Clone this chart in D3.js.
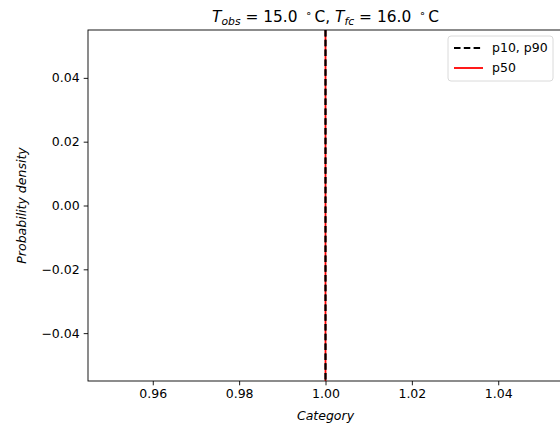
<!DOCTYPE html>
<html>
<head>
<meta charset="utf-8">
<script src="https://cdn.jsdelivr.net/npm/d3@7"></script>
<style>
  html, body { margin: 0; padding: 0; background: #fff; }
  svg { display: block; font-family: "DejaVu Sans", sans-serif; }
</style>
</head>
<body>
<svg id="chart" width="560" height="428"></svg>
<script>
// Forecast percentiles for the single category
const categories = [1.0];
const p10 = [1.0];
const p50 = [1.0];
const p90 = [1.0];
const xTicks = [0.96, 0.98, 1.00, 1.02, 1.04];
const yTicks = [-0.04, -0.02, 0.00, 0.02, 0.04];
const xDomain = [0.945, 1.055];
const yDomain = [-0.055, 0.055];
const tObs = "15.0", tFc = "16.0";

const svg = d3.select("#chart");
const margin = { left: 88, top: 30, right: 563, bottom: 381 };
const fs = 12.5;

const x = d3.scaleLinear().domain(xDomain).range([margin.left, margin.right]);
const y = d3.scaleLinear().domain(yDomain).range([margin.bottom, margin.top]);

// percentile lines: p50 underneath, p10/p90 dashed on top
const plot = svg.append("g");
plot.selectAll("line.p50").data(p50).join("line")
  .attr("class", "p50")
  .attr("x1", d => x(d)).attr("x2", d => x(d))
  .attr("y1", y(yDomain[0])).attr("y2", y(yDomain[1]))
  .attr("stroke", "red").attr("stroke-width", 1.8);
plot.selectAll("line.p1090").data(p10.concat(p90)).join("line")
  .attr("class", "p1090")
  .attr("x1", d => x(d)).attr("x2", d => x(d))
  .attr("y1", y(yDomain[1])).attr("y2", y(yDomain[0]))
  .attr("stroke", "black").attr("stroke-width", 1.8)
  .attr("stroke-dasharray", "6.5,3.3");

// axes
const xAxis = d3.axisBottom(x).tickValues(xTicks).tickFormat(d3.format(".2f"))
  .tickSize(4.3).tickPadding(4);
const yAxis = d3.axisLeft(y).tickValues(yTicks)
  .tickFormat(d => d3.format(".2f")(d).replace("-", "\u2212"))
  .tickSize(4.3).tickPadding(4);

const gx = svg.append("g").attr("transform", `translate(0,${margin.bottom})`).call(xAxis);
const gy = svg.append("g").attr("transform", `translate(${margin.left},0)`).call(yAxis);
[gx, gy].forEach(g => {
  g.select(".domain").remove();
  g.selectAll(".tick line").attr("stroke", "#000").attr("stroke-width", 0.9);
  g.selectAll(".tick text").attr("fill", "#000").style("font-size", fs + "px")
    .style("font-family", "DejaVu Sans");
});

// spines
svg.append("rect")
  .attr("x", margin.left).attr("y", margin.top)
  .attr("width", margin.right - margin.left).attr("height", margin.bottom - margin.top)
  .attr("fill", "none").attr("stroke", "#000").attr("stroke-width", 0.9);

// axis labels
svg.append("text").attr("x", (margin.left + margin.right) / 2).attr("y", 420)
  .attr("text-anchor", "middle").style("font-size", fs + "px").style("font-style", "italic")
  .text("Category");
svg.append("text").attr("transform", `translate(26,${(margin.top + margin.bottom) / 2}) rotate(-90)`)
  .attr("text-anchor", "middle").style("font-size", fs + "px").style("font-style", "italic")
  .text("Probability density");

// title, with math-style subscripts and a raised degree ring
const title = svg.append("text").attr("x", (margin.left + margin.right) / 2).attr("y", 22)
  .attr("text-anchor", "middle").style("font-size", "15.4px");
function tempPart(sub, val, first) {
  title.append("tspan").style("font-style", "italic").text("T");
  title.append("tspan").style("font-style", "italic").style("font-size", "10.8px").attr("dy", 2.8).text(sub);
  title.append("tspan").attr("dy", -2.8).text(` = ${val}\u2002`);
  title.append("tspan").style("font-size", "10.8px").attr("dy", -5.5).text("\u2218");
  title.append("tspan").attr("dy", 5.5).text("\u2006C" + (first ? ", " : ""));
}
tempPart("obs", tObs, true);
tempPart("fc", tFc, false);

// legend
const legendItems = [
  { label: "p10, p90", color: "black", dash: "6.5,3.3" },
  { label: "p50", color: "red", dash: null }
];
const lg = svg.append("g").attr("transform", "translate(448,36)");
lg.append("rect").attr("width", 105).attr("height", 45).attr("rx", 3)
  .attr("fill", "#fff").attr("fill-opacity", 0.8).attr("stroke", "#d6d6d6").attr("stroke-width", 0.9);
legendItems.forEach((it, i) => {
  const yy = 12 + i * 20;
  lg.append("line").attr("x1", 6).attr("x2", 35).attr("y1", yy).attr("y2", yy)
    .attr("stroke", it.color).attr("stroke-width", 1.8)
    .attr("stroke-dasharray", it.dash);
  lg.append("text").attr("x", 44).attr("y", yy + 4.3).style("font-size", fs + "px").text(it.label);
});
</script>
</body>
</html>
